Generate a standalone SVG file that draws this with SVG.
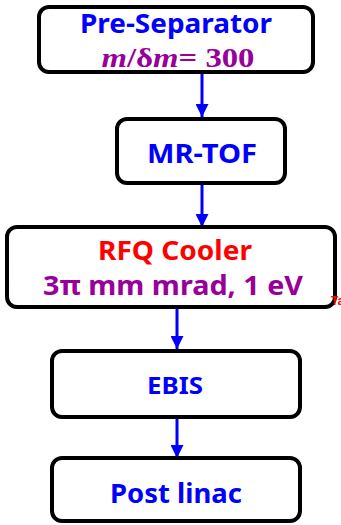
<svg xmlns="http://www.w3.org/2000/svg" width="341" height="525" viewBox="0 0 341 525">
<defs>
<style>
.box{fill:#fff;stroke:#000;stroke-width:4}
.t{font-family:"Noto Sans","DejaVu Sans",sans-serif;font-weight:bold;text-anchor:middle}
.blue{fill:#0000ff}
.red{fill:#ff0000}
.pur{fill:#990099}
.conn{stroke:#0000ff;stroke-width:3;fill:none}
.serif{font-family:"Liberation Serif","Times New Roman",serif;font-weight:bold;text-anchor:middle}
</style>
<marker id="ah" viewBox="0 0 13 13" refX="13" refY="6.5" markerWidth="13" markerHeight="13" markerUnits="userSpaceOnUse" orient="auto">
<path d="M0,0 L13,6.5 L0,13 Z" fill="#0000ff"/>
</marker>
</defs>
<rect width="341" height="525" fill="#fff"/>
<g id="connectors">
<line class="conn" x1="202" y1="74" x2="202" y2="117" marker-end="url(#ah)"/>
<line class="conn" x1="202" y1="185" x2="202" y2="227" marker-end="url(#ah)"/>
<line class="conn" x1="177" y1="309" x2="177" y2="349" marker-end="url(#ah)"/>
<line class="conn" x1="177" y1="419" x2="177" y2="458" marker-end="url(#ah)"/>
</g>
<g id="pre-separator">
<rect class="box" x="39" y="7" width="274" height="65" rx="10"/>
<text class="t blue" x="176" y="33" font-size="26" textLength="192" lengthAdjust="spacingAndGlyphs">Pre-Separator</text>
<text class="serif pur" x="178" y="67" font-size="27" textLength="153" lengthAdjust="spacingAndGlyphs"><tspan font-style="italic">m</tspan>/δ<tspan font-style="italic">m</tspan>=  300</text>
</g>
<g id="mr-tof">
<rect class="box" x="117" y="119" width="168" height="64" rx="10"/>
<text class="t blue" x="202" y="163" font-size="27" textLength="110" lengthAdjust="spacingAndGlyphs">MR-TOF</text>
</g>
<g id="rfq-cooler">
<rect class="box" x="7" y="227" width="328" height="80" rx="10"/>
<text class="t red" x="175" y="260" font-size="26" textLength="154" lengthAdjust="spacingAndGlyphs">RFQ Cooler</text>
<text class="t pur" x="173" y="295" font-size="26" textLength="260" lengthAdjust="spacingAndGlyphs">3π mm mrad, 1 eV</text>
</g>
<text x="331" y="305" font-family="Liberation Sans,sans-serif" font-size="12" font-weight="bold" fill="#ff0000">Ta</text>
<g id="ebis">
<rect class="box" x="52" y="351" width="248" height="66" rx="10"/>
<text class="t blue" x="175" y="394" font-size="24" textLength="56" lengthAdjust="spacingAndGlyphs">EBIS</text>
</g>
<g id="post-linac">
<rect class="box" x="52" y="458" width="248" height="63" rx="10"/>
<text class="t blue" x="176" y="503" font-size="26" textLength="132" lengthAdjust="spacingAndGlyphs">Post linac</text>
</g>
</svg>
